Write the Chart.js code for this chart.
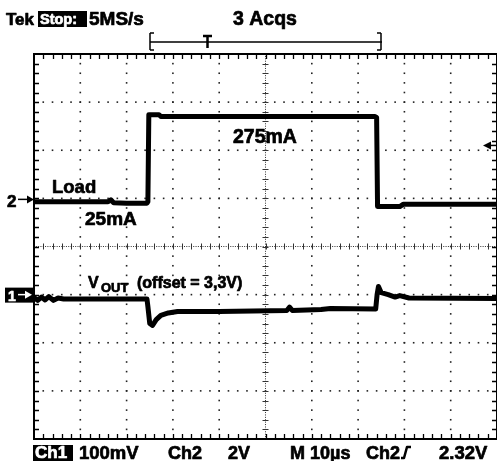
<!DOCTYPE html>
<html>
<head>
<meta charset="utf-8">
<script src="https://cdn.jsdelivr.net/npm/chart.js@4.4.1/dist/chart.umd.min.js"></script>
<style>
  body { margin: 0; background: #fff; }
  canvas { display: block; }
</style>
</head>
<body>
<canvas id="scopeChart" width="497" height="461"></canvas>
<script>
// time in microseconds (M 10us/div), level in screen divisions (centre line = 0)
const loadTime  = [0, 8, 16, 16.6, 17.2, 20, 24.4, 24.6, 24.8, 27, 27.4, 50, 73.6, 74, 74.2, 79, 79.8, 100];
const loadLevel = [0.93, 0.93, 0.93, 0.97, 0.91, 0.9, 0.9, 0.93, 2.74, 2.74, 2.7, 2.7, 2.7, 2.68, 0.83, 0.83, 0.88, 0.88];

const voutTime  = [0, 0.8, 1.6, 2.4, 3.2, 4.2, 5.2, 6.4, 24.4, 24.6, 25, 25.6, 26.4, 27.4, 29, 31, 40, 54.6, 55.2, 55.8, 62, 64, 73.8, 74.1, 74.4, 75, 76.5, 78, 79, 81, 100];
const voutLevel = [-1.06, -1.12, -1.05, -1.11, -1.04, -1.12, -1.07, -1.09, -1.09, -1.25, -1.6, -1.64, -1.52, -1.43, -1.38, -1.35, -1.35, -1.33, -1.26, -1.33, -1.31, -1.29, -1.3, -1.0, -0.83, -0.96, -1.0, -1.05, -1.02, -1.07, -1.08];

const FONT = '"Liberation Sans", Arial, sans-serif';

function toPoints(xs, ys) {
  return xs.map((t, i) => ({x: t, y: ys[i]}));
}

// graticule: dotted divisions, ticked centre lines, ticked frame
const scopeGrid = {
  id: 'scopeGrid',
  beforeDatasetsDraw(chart) {
    const ctx = chart.ctx, a = chart.chartArea;
    const x = chart.scales.x, y = chart.scales.y;
    ctx.save();
    ctx.fillStyle = '#222';
    for (let i = 1; i < 10; i++) {
      if (i === 5) continue;
      const px = x.getPixelForValue(i * 10);
      for (let j = 1; j < 40; j++) {
        const py = y.getPixelForValue(-4 + j * 0.2);
        ctx.fillRect(px - 0.8, py - 0.8, 1.6, 1.6);
      }
    }
    for (let i = -3; i <= 3; i++) {
      if (i === 0) continue;
      const py = y.getPixelForValue(i);
      for (let j = 1; j < 50; j++) {
        const px = x.getPixelForValue(j * 2);
        ctx.fillRect(px - 0.8, py - 0.8, 1.6, 1.6);
      }
    }
    // centre lines
    const cx = x.getPixelForValue(50), cy = y.getPixelForValue(0);
    ctx.fillStyle = '#333';
    for (let j = 1; j < 160; j++) {
      const py = y.getPixelForValue(-4 + j * 0.05);
      ctx.fillRect(cx - 0.5, py - 0.5, 1, 1);
    }
    for (let j = 1; j < 200; j++) {
      const px = x.getPixelForValue(j * 0.5);
      ctx.fillRect(px - 0.5, cy - 0.5, 1, 1);
    }
    ctx.strokeStyle = '#333';
    ctx.lineWidth = 1;
    ctx.beginPath();
    for (let j = 1; j < 40; j++) {
      const py = Math.round(y.getPixelForValue(-4 + j * 0.2)) + 0.5;
      ctx.moveTo(cx - 3, py); ctx.lineTo(cx + 3, py);
    }
    for (let j = 1; j < 50; j++) {
      const px = Math.round(x.getPixelForValue(j * 2)) + 0.5;
      ctx.moveTo(px, cy - 3); ctx.lineTo(px, cy + 3);
    }
    ctx.stroke();
    // frame with minor ticks
    ctx.strokeStyle = '#000';
    ctx.lineWidth = 2;
    ctx.strokeRect(a.left, a.top, a.right - a.left, a.bottom - a.top);
    ctx.lineWidth = 1.3;
    ctx.beginPath();
    for (let j = 1; j < 50; j++) {
      const px = Math.round(x.getPixelForValue(j * 2)) + 0.5;
      ctx.moveTo(px, a.top); ctx.lineTo(px, a.top + 5);
      ctx.moveTo(px, a.bottom); ctx.lineTo(px, a.bottom - 5);
    }
    for (let j = 1; j < 40; j++) {
      const py = Math.round(y.getPixelForValue(-4 + j * 0.2)) + 0.5;
      ctx.moveTo(a.left, py); ctx.lineTo(a.left + 5, py);
      ctx.moveTo(a.right, py); ctx.lineTo(a.right - 5, py);
    }
    ctx.stroke();
    ctx.restore();
  }
};

// heavy bold text, like the scope's readout font
function heavyText(ctx, text, x, y, size, color) {
  ctx.font = 'bold ' + size + 'px ' + FONT;
  ctx.fillStyle = color || '#000';
  ctx.strokeStyle = color || '#000';
  ctx.lineWidth = 0.7;
  ctx.lineJoin = 'round';
  ctx.fillText(text, x, y);
  ctx.strokeText(text, x, y);
}

function boxText(ctx, text, x, y, w, h, size) {
  ctx.fillStyle = '#000';
  ctx.fillRect(x, y, w, h);
  heavyText(ctx, text, x + 2, y + h - 3, size, '#fff');
}

// scope readouts and trace labels
const scopeText = {
  id: 'scopeText',
  afterDraw(chart) {
    const ctx = chart.ctx;
    const y = chart.scales.y;
    ctx.save();
    ctx.textBaseline = 'alphabetic';

    // header
    heavyText(ctx, 'Tek', 6, 25, 17);
    boxText(ctx, 'Stop:', 38, 11, 49, 16, 14.5);
    heavyText(ctx, '5MS/s', 89, 25, 19);
    heavyText(ctx, '3 Acqs', 233, 25, 19.5);

    // record/trigger bracket
    ctx.strokeStyle = '#000';
    ctx.fillStyle = '#000';
    ctx.lineWidth = 1.5;
    ctx.beginPath();
    ctx.moveTo(150, 42); ctx.lineTo(382, 42);
    ctx.moveTo(150, 33); ctx.lineTo(150, 50);
    ctx.moveTo(150, 33); ctx.lineTo(154, 33);
    ctx.moveTo(150, 50); ctx.lineTo(154, 50);
    ctx.moveTo(381, 33); ctx.lineTo(381, 50);
    ctx.moveTo(381, 33); ctx.lineTo(377, 33);
    ctx.moveTo(381, 50); ctx.lineTo(377, 50);
    ctx.stroke();
    ctx.lineWidth = 2.5;
    ctx.beginPath();
    ctx.moveTo(203, 36); ctx.lineTo(212, 36);
    ctx.moveTo(207.5, 36); ctx.lineTo(207.5, 48);
    ctx.stroke();

    // channel ground markers
    heavyText(ctx, '2', 7, 207, 17);
    const y2 = y.getPixelForValue(1);
    ctx.fillStyle = '#000';
    ctx.strokeStyle = '#000';
    ctx.lineWidth = 1.5;
    ctx.beginPath();
    ctx.moveTo(18, y2 + 1); ctx.lineTo(28, y2 + 1);
    ctx.stroke();
    ctx.beginPath();
    ctx.moveTo(34, y2 + 1); ctx.lineTo(27, y2 - 3); ctx.lineTo(27, y2 + 5); ctx.closePath();
    ctx.fill();

    const y1 = y.getPixelForValue(-1);
    ctx.fillRect(5, y1 - 7, 29, 15);
    heavyText(ctx, '1', 8, y1 + 6, 14, '#fff');
    ctx.strokeStyle = '#fff';
    ctx.lineWidth = 1.5;
    ctx.beginPath();
    ctx.moveTo(18, y1); ctx.lineTo(26, y1);
    ctx.stroke();
    ctx.beginPath();
    ctx.moveTo(32, y1); ctx.lineTo(25, y1 - 4); ctx.lineTo(25, y1 + 4); ctx.closePath();
    ctx.fill();

    // trigger level marker on the right
    ctx.fillStyle = '#000';
    ctx.strokeStyle = '#000';
    const yt = y.getPixelForValue(2.1);
    ctx.beginPath();
    ctx.moveTo(483, yt); ctx.lineTo(491, yt - 4); ctx.lineTo(491, yt + 4); ctx.closePath();
    ctx.fill();
    ctx.beginPath();
    ctx.moveTo(489, yt); ctx.lineTo(497, yt);
    ctx.stroke();

    // trace labels
    heavyText(ctx, 'Load', 52, 193, 18.5);
    heavyText(ctx, '25mA', 85, 225, 19);
    heavyText(ctx, '275mA', 233, 143, 19.5);
    heavyText(ctx, 'V', 88, 288, 16);
    heavyText(ctx, 'OUT', 101, 292, 13);
    heavyText(ctx, '(offset = 3,3V)', 137, 288, 16);

    // bottom readout
    boxText(ctx, 'Ch1', 33, 445, 40, 16, 17);
    heavyText(ctx, '100mV', 79, 459, 18.5);
    heavyText(ctx, 'Ch2', 168, 459, 18);
    heavyText(ctx, '2V', 228, 459, 18);
    heavyText(ctx, 'M 10\u00b5s', 290, 459, 18);
    heavyText(ctx, 'Ch2', 366, 459, 18);
    heavyText(ctx, '2.32V', 439, 459, 18.5);
    ctx.strokeStyle = '#000';
    ctx.lineWidth = 2.5;
    ctx.beginPath();
    ctx.moveTo(401, 458); ctx.lineTo(404, 458); ctx.lineTo(407, 447); ctx.lineTo(411, 447);
    ctx.stroke();
    ctx.restore();
  }
};

const config = {
  type: 'line',
  data: {
    datasets: [
      {
        label: 'Load',
        data: toPoints(loadTime, loadLevel),
        borderColor: '#000',
        borderWidth: 5,
        borderJoinStyle: 'round',
        borderCapStyle: 'round',
        pointRadius: 0,
        tension: 0
      },
      {
        label: 'VOUT',
        data: toPoints(voutTime, voutLevel),
        borderColor: '#000',
        borderWidth: 5,
        borderJoinStyle: 'round',
        borderCapStyle: 'round',
        pointRadius: 0,
        tension: 0
      }
    ]
  },
  options: {
    responsive: false,
    animation: false,
    layout: {
      padding: {left: 34, top: 54, right: 0, bottom: 22}
    },
    plugins: {
      legend: {display: false},
      tooltip: {enabled: false}
    },
    scales: {
      x: {type: 'linear', min: 0, max: 100, display: false},
      y: {type: 'linear', min: -4, max: 4, display: false}
    }
  },
  plugins: [scopeGrid, scopeText]
};

var scopeChart;

window.addEventListener('load', _ => {
  var ctx = document.getElementById('scopeChart').getContext('2d');
  scopeChart = new Chart(ctx, config);
});
</script>
</body>
</html>
